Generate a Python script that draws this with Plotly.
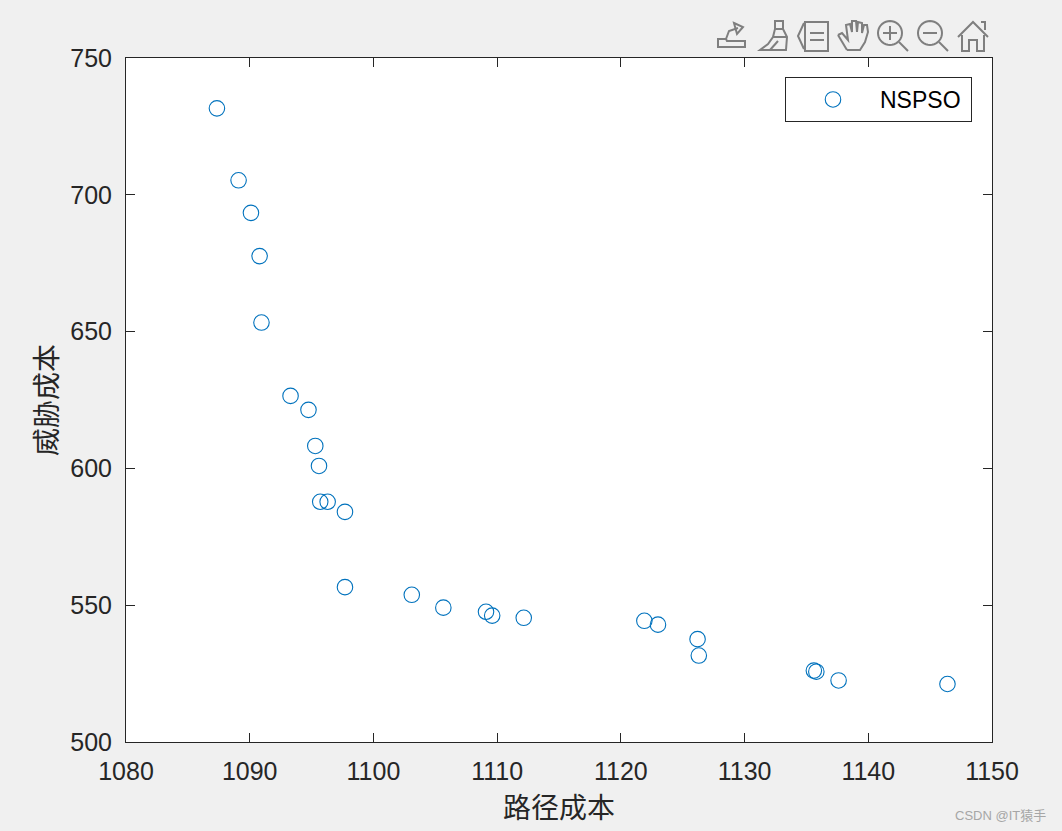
import math
import plotly.graph_objects as go

path_cost = [1087.35, 1089.1, 1090.1, 1090.8, 1090.95, 1093.3, 1094.75, 1095.3, 1095.6, 1095.7, 1096.3, 1097.7, 1097.7,
             1103.1, 1105.65, 1109.1, 1109.6, 1112.15, 1121.9, 1123.0, 1126.2, 1126.3, 1135.6, 1135.8, 1137.6, 1146.4]
threat_cost = [731.6, 705.3, 693.4, 677.6, 653.3, 626.5, 621.4, 608.2, 600.9, 587.8, 587.8, 584.1, 556.6,
               553.8, 549.1, 547.6, 546.2, 545.4, 544.3, 542.9, 537.6, 531.6, 526.1, 525.7, 522.5, 521.2]
series_name = "NSPSO"
x_ticks = [1080, 1090, 1100, 1110, 1120, 1130, 1140, 1150]
y_ticks = [500, 550, 600, 650, 700, 750]
x_title = "路径成本"
y_title = "威胁成本"
watermark = "CSDN @IT猿手"

W, H = 1062, 831
L, R, T, B = 126, 70, 58, 89
BG = "#F0F0F0"
INK = "#262626"
ICON = "#7F7F7F"


def to_paper(x, y):
    return (x - L) / (W - L - R), 1 - (y - T) / (H - T - B)


def pth(points, close=False):
    s = "M " + " L ".join("%.5f %.5f" % to_paper(x, y) for x, y in points)
    return s + (" Z" if close else "")


def circle_path(cx, cy, r):
    return pth([(cx + r * math.cos(i * math.pi / 18), cy + r * math.sin(i * math.pi / 18)) for i in range(36)], True)


icon_paths = [
    # export
    pth([(718, 39), (718, 47), (745, 47), (745, 41), (727, 41), (726, 39)], True),
    pth([(726, 39), (729, 31), (738, 28)]),
    pth([(734, 23), (743, 27), (737, 34)], True),
    # brush
    pth([(775, 21), (783, 21), (783, 29), (787, 37), (786, 50), (760, 50), (768, 44), (773, 37), (775, 29)], True),
    pth([(775, 29), (783, 29)]),
    pth([(773, 37), (787, 37)]),
    pth([(770, 50), (778, 41)]),
    # insert legend
    pth([(805, 22), (828, 22), (828, 51), (805, 51)], True),
    pth([(804, 23), (798, 36), (804, 49)]),
    pth([(810, 33), (824, 33)]),
    pth([(810, 40), (824, 40)]),
    # hand
    pth([(847, 50), (860, 50), (865, 42), (868, 32), (867, 25), (864, 25), (862, 33), (862, 23), (858, 22), (857, 32),
         (856, 21), (852, 21), (852, 32), (850, 24), (846, 25), (848, 40), (842, 33), (838, 35)]),
    pth([(838, 35), (847, 50)]),
    # zoom in
    circle_path(890, 33, 12),
    pth([(899, 42), (908, 51)]),
    pth([(883, 33), (897, 33)]),
    pth([(890, 26), (890, 40)]),
    # zoom out
    circle_path(930, 33, 12),
    pth([(939, 42), (948, 51)]),
    pth([(923, 33), (937, 33)]),
    # home
    pth([(958, 37), (973, 22), (988, 37)]),
    pth([(962, 35), (962, 51), (969, 51), (969, 40), (977, 40), (977, 51), (984, 51), (984, 35)]),
    pth([(981, 22), (985, 22), (985, 30)]),
]

fig = go.Figure(go.Scatter(
    x=path_cost, y=threat_cost, mode="markers", name=series_name + "\u2009", showlegend=True,
    marker=dict(symbol="circle-open", size=15.5, color="#0072BD", line=dict(width=1.1, color="#0072BD")),
))

axis_common = dict(
    showgrid=False, zeroline=False, showline=True, linecolor=INK, linewidth=1, mirror="allticks",
    ticks="inside", ticklen=9, tickwidth=1, tickcolor=INK,
    tickfont=dict(family="Liberation Sans, Arial, sans-serif", size=25, color=INK),
)

fig.update_layout(
    width=W, height=H, autosize=False,
    margin=dict(l=L, r=R, t=T, b=B, pad=0),
    paper_bgcolor=BG, plot_bgcolor="white",
    xaxis=dict(axis_common, range=[1080, 1150], tickmode="array", tickvals=x_ticks, ticktext=[str(v) for v in x_ticks],
               ticklabelstandoff=7,
               title=dict(text=x_title, standoff=14, font=dict(family="Noto Sans CJK SC", size=28, color=INK))),
    yaxis=dict(axis_common, range=[500, 750], tickmode="array", tickvals=y_ticks, ticktext=[str(v) for v in y_ticks],
               ticklabelstandoff=8,
               title=dict(text=y_title, standoff=4, font=dict(family="Noto Sans CJK SC", size=28, color=INK))),
    legend=dict(
        x=(972 - L) / (W - L - R), y=1 - (77 - T) / (H - T - B), xanchor="right", yanchor="top",
        bgcolor="white", bordercolor=INK, borderwidth=1, itemwidth=84,
        font=dict(family="Liberation Sans, Arial, sans-serif", size=23, color="black"),
    ),
    shapes=[dict(type="path", xref="paper", yref="paper", path=p, line=dict(color=ICON, width=2), layer="above")
            for p in icon_paths],
    annotations=[dict(text=watermark, xref="paper", yref="paper", x=(1048 - L) / (W - L - R), y=1 - (815 - T) / (H - T - B),
                      xanchor="right", yanchor="middle", showarrow=False,
                      font=dict(family="Liberation Sans, Noto Sans CJK SC", size=13, color="#A6A6A6"))],
)

fig.write_html("out.html", post_script="document.body.style.margin='0';document.body.style.overflow='hidden';",
               config=dict(displayModeBar=False))
